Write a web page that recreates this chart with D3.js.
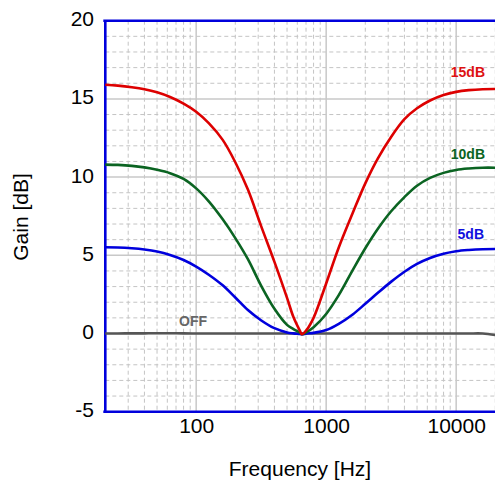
<!DOCTYPE html>
<html>
<head>
<meta charset="utf-8">
<script src="https://cdn.jsdelivr.net/npm/d3@7/dist/d3.min.js"></script>
<style>
  html, body { margin: 0; padding: 0; background: #fff; }
  svg { display: block; font-family: "Liberation Sans", Arial, sans-serif; }
</style>
</head>
<body>
<svg id="chart" width="495" height="481"></svg>
<script>
// Third-octave frequencies (Hz) at which the responses are tabulated
const freqs = [20, 25, 32, 40, 50, 63, 80, 100, 125, 160, 200, 250, 315, 400, 500, 560, 630, 650, 710, 800, 1000, 1250, 1600, 2000, 2500, 3150, 4000, 5000, 6300, 8000, 10000, 12500, 16000, 20000];

// Gain (dB) for each setting
const gainOff = [0, 0, 0.01, 0.01, 0.02, 0.02, 0.01, 0, 0, 0, 0, 0, 0, 0, 0, 0, 0, 0, 0, 0, 0, 0, 0, 0, 0, 0, 0, 0, 0, 0, 0, 0, 0, -0.1];
const gain5   = [5.51, 5.5, 5.45, 5.37, 5.24, 5.02, 4.7, 4.28, 3.76, 3.08, 2.3, 1.5, 0.85, 0.34, 0.07, 0.01, -0.03, -0.05, 0.0, 0.04, 0.22, 0.62, 1.22, 1.9, 2.6, 3.3, 3.95, 4.45, 4.83, 5.1, 5.26, 5.34, 5.39, 5.4];
const gain10  = [10.8, 10.78, 10.72, 10.62, 10.47, 10.25, 9.88, 9.28, 8.45, 7.3, 6.1, 4.75, 3.08, 1.58, 0.55, 0.28, 0.05, -0.05, 0.1, 0.4, 1.25, 2.45, 4.05, 5.45, 6.7, 7.8, 8.72, 9.45, 9.95, 10.27, 10.46, 10.55, 10.6, 10.6];
const gain15  = [15.9, 15.85, 15.75, 15.62, 15.42, 15.12, 14.7, 14.18, 13.45, 12.38, 10.95, 9.2, 6.9, 4.58, 2.28, 1.05, 0.15, -0.05, 0.25, 1.0, 3.2, 5.5, 7.7, 9.6, 11.2, 12.55, 13.7, 14.4, 14.9, 15.25, 15.45, 15.56, 15.62, 15.63];

const xTicks = [100, 1000, 10000];
const yTicks = [-5, 0, 5, 10, 15, 20];

const series = [
  { name: "OFF",  gain: gainOff, color: "#555555", label: "#666666", lx: 179, ly: 326, anchor: "start" },
  { name: "5dB",  gain: gain5,   color: "#0000dd", label: "#1010dd", lx: 484, ly: 239, anchor: "end" },
  { name: "10dB", gain: gain10,  color: "#0b6422", label: "#0b6422", lx: 485, ly: 159, anchor: "end" },
  { name: "15dB", gain: gain15,  color: "#dd0000", label: "#dd1111", lx: 485, ly: 77,  anchor: "end" }
];

const W = 495, H = 481;
const plotL = 105.3, plotR = 495.3, plotT = 20.7, plotB = 411.7;

const svg = d3.select("#chart");
const x = d3.scaleLog().domain([20, 20000]).range([plotL, plotR]);
const y = d3.scaleLinear().domain([-5, 20]).range([plotB, plotT]);

// Minor grid (dashed)
const minorX = [];
[10, 100, 1000, 10000].forEach(d => {
  for (let k = 2; k <= 9; k++) {
    const f = d * k;
    if (f >= 20 && f <= 20000) minorX.push(f);
  }
});
const minorY = d3.range(-5, 21).filter(v => v % 5 !== 0);

const grid = svg.append("g");
grid.selectAll("line.mx").data(minorX).join("line")
  .attr("x1", d => x(d)).attr("x2", d => x(d))
  .attr("y1", plotT).attr("y2", plotB)
  .attr("stroke", "#c4c4c4").attr("stroke-width", 1)
  .attr("stroke-dasharray", "4,3");
grid.selectAll("line.my").data(minorY).join("line")
  .attr("x1", plotL).attr("x2", plotR)
  .attr("y1", d => y(d)).attr("y2", d => y(d))
  .attr("stroke", "#c4c4c4").attr("stroke-width", 1)
  .attr("stroke-dasharray", "4,3");

// Major grid (solid)
grid.selectAll("line.Mx").data(xTicks).join("line")
  .attr("x1", d => x(d)).attr("x2", d => x(d))
  .attr("y1", plotT).attr("y2", plotB)
  .attr("stroke", "#c8c8c8").attr("stroke-width", 1.5);
grid.selectAll("line.My").data(yTicks.filter(v => v > -5 && v < 20)).join("line")
  .attr("x1", plotL).attr("x2", plotR)
  .attr("y1", d => y(d)).attr("y2", d => y(d))
  .attr("stroke", "#c8c8c8").attr("stroke-width", 1.5);

// Frame
const frame = svg.append("g").attr("stroke", "#0000dc").attr("stroke-width", 2.6);
frame.append("line").attr("x1", plotL - 2).attr("x2", W).attr("y1", plotT).attr("y2", plotT);
frame.append("line").attr("x1", plotL - 2).attr("x2", W).attr("y1", plotB).attr("y2", plotB);
frame.append("line").attr("x1", plotL).attr("x2", plotL).attr("y1", plotT).attr("y2", plotB);

// Tick labels via axes with hidden lines
const xAxis = d3.axisBottom(x).tickValues(xTicks).tickFormat(d => String(d)).tickSize(0).tickPadding(0);
const gx = svg.append("g").attr("transform", `translate(0,${plotB})`).call(xAxis);
gx.select(".domain").remove();
gx.selectAll("text")
  .attr("dy", null).attr("y", 21)
  .attr("fill", "#000").attr("font-size", 21)
  .attr("font-family", "Liberation Sans, Arial, sans-serif");

const yAxis = d3.axisLeft(y).tickValues(yTicks).tickFormat(d => String(d)).tickSize(0).tickPadding(0);
const gy = svg.append("g").attr("transform", `translate(94,0)`).call(yAxis);
gy.select(".domain").remove();
gy.selectAll("text")
  .attr("dy", null).attr("x", 0).attr("y", 5)
  .attr("fill", "#000").attr("font-size", 21)
  .attr("font-family", "Liberation Sans, Arial, sans-serif");

// Axis titles
svg.append("text").attr("x", 300).attr("y", 476)
  .attr("text-anchor", "middle").attr("font-size", 21).attr("fill", "#000")
  .text("Frequency [Hz]");
svg.append("text")
  .attr("transform", "translate(28,217) rotate(-90)")
  .attr("text-anchor", "middle").attr("font-size", 21).attr("fill", "#000")
  .text("Gain [dB]");

// Response curves
const line = d3.line()
  .x(d => x(d[0]))
  .y(d => y(d[1]))
  .curve(d3.curveCatmullRom.alpha(0.5));

series.forEach(s => {
  const pts = freqs.map((f, i) => [f, s.gain[i]]);
  svg.append("path")
    .datum(pts)
    .attr("d", line)
    .attr("fill", "none")
    .attr("stroke", s.color)
    .attr("stroke-width", 2.6)
    .attr("stroke-linejoin", "round");
  svg.append("text")
    .attr("x", s.lx).attr("y", s.ly)
    .attr("text-anchor", s.anchor)
    .attr("font-size", 14).attr("font-weight", "bold")
    .attr("fill", s.label)
    .text(s.name);
});
</script>
</body>
</html>
